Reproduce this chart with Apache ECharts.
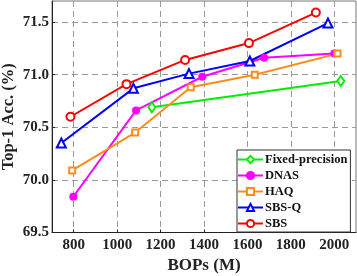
<!DOCTYPE html>
<html>
<head>
<meta charset="utf-8">
<script src="https://cdn.jsdelivr.net/npm/echarts@6/dist/echarts.min.js"></script>
<style>html,body{margin:0;padding:0;background:#fff}#c{width:357px;height:276px}</style>
</head>
<body>
<div id="c"></div>
<script>
var seriesNames = ['Fixed-precision', 'DNAS', 'HAQ', 'SBS-Q', 'SBS'];
var fixedData = [[1160, 70.69], [2030, 70.94]];
var dnasData = [[798, 69.84], [1087, 70.66], [1392, 70.98], [1677, 71.16], [2000, 71.20]];
var haqData = [[793, 70.09], [1083, 70.45], [1339, 70.88], [1634, 71.00], [2015, 71.20]];
var sbsqData = [[743, 70.35], [1075, 70.87], [1331, 71.01], [1611, 71.13], [1971, 71.49]];
var sbsData = [[785, 70.60], [1043, 70.91], [1313, 71.14], [1607, 71.30], [1915, 71.59]];
var xTicks = [800, 1000, 1200, 1400, 1600, 1800, 2000];
var yTicks = [69.5, 70.0, 70.5, 71.0, 71.5];

var FONT = '"Liberation Serif", "Times New Roman", serif';
var chart = echarts.init(document.getElementById('c'), null, {renderer: 'canvas'});

function mk(name, data, color, symbol, size) {
  return {
    name: name, type: 'line', data: data,
    symbol: symbol, symbolSize: size,
    lineStyle: {color: color, width: 2},
    itemStyle: {color: color, borderColor: color, borderWidth: 2},
    emphasis: {disabled: true},
    animation: false
  };
}

chart.setOption({
  animation: false,
  grid: {left: 52, right: 1, top: 1, bottom: 43.5, show: true, borderColor: '#777', borderWidth: 1,
    containLabel: false, outerBoundsMode: 'none'},
  xAxis: {
    type: 'value', min: 700, max: 2100,
    name: 'BOPs (M)', nameLocation: 'middle', nameGap: 23,
    nameTextStyle: {fontFamily: FONT, fontWeight: 'bold', fontSize: 17, color: '#222'},
    axisLine: {show: true, lineStyle: {color: '#222', width: 1}},
    axisTick: {show: true, inside: true, length: 3, customValues: xTicks, lineStyle: {color: '#222'}},
    axisLabel: {customValues: xTicks, margin: 5, fontFamily: FONT, fontWeight: 'bold', fontSize: 15, color: '#222',
      formatter: function (v) { return String(v); }},
    splitLine: {show: true, lineStyle: {color: '#999', type: [6, 4], width: 1}}
  },
  yAxis: {
    type: 'value', min: 69.5, max: 71.7,
    name: 'Top-1 Acc. (%)', nameLocation: 'middle', nameGap: 35, nameMoveOverlap: false,
    nameTextStyle: {fontFamily: FONT, fontWeight: 'bold', fontSize: 16.5, color: '#222'},
    axisLine: {show: true, lineStyle: {color: '#222', width: 1}},
    axisTick: {show: true, inside: true, length: 3, customValues: yTicks, lineStyle: {color: '#222'}},
    axisLabel: {customValues: yTicks, margin: 3, fontFamily: FONT, fontWeight: 'bold', fontSize: 15, color: '#222',
      formatter: function (v) { return v.toFixed(1); }},
    splitLine: {show: true, lineStyle: {color: '#999', type: [6, 4], width: 1}}
  },
  legend: {
    data: seriesNames,
    orient: 'vertical', left: 237, top: 150,
    padding: [3, 3, 2, 0],
    itemWidth: 25, itemHeight: 9, itemGap: 3,
    borderColor: '#333', borderWidth: 1, backgroundColor: '#fff',
    textStyle: {fontFamily: FONT, fontWeight: 'bold', fontSize: 12.5, lineHeight: 12, color: '#111', padding: [0, 0, 0, -3]},
    selectedMode: false
  },
  series: [
    mk(seriesNames[0], fixedData, '#00ee00', 'emptyDiamond', [7, 10]),
    mk(seriesNames[1], dnasData, '#ff00ff', 'circle', 6),
    mk(seriesNames[2], haqData, '#ff8c1a', 'emptyRect', 6),
    mk(seriesNames[3], sbsqData, '#0000ff', 'emptyTriangle', 9),
    mk(seriesNames[4], sbsData, '#ff0000', 'emptyCircle', 8)
  ]
});
</script>
</body>
</html>
